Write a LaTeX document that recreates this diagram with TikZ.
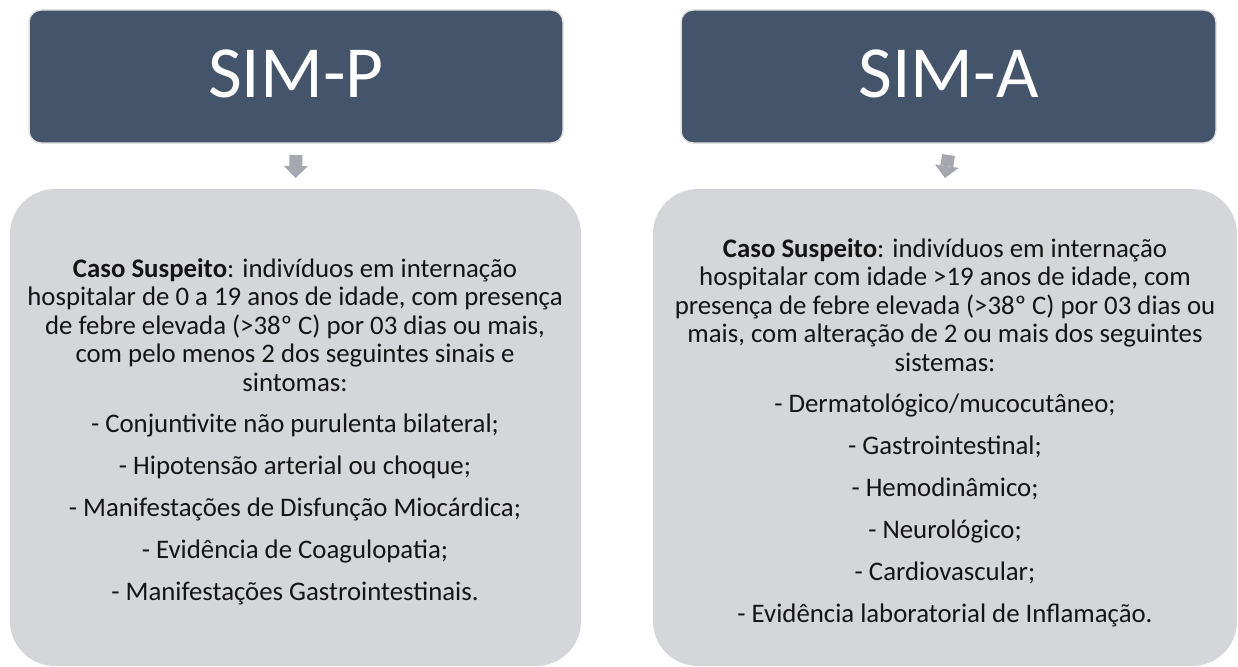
\documentclass[tikz,border=0pt]{standalone}
\usepackage{fontspec}
\setmainfont{Carlito}
\usetikzlibrary{calc,arrows.meta}
\definecolor{hdrblue}{RGB}{68,84,106}
\definecolor{hdrborder}{RGB}{226,226,228}
\definecolor{bodygray}{RGB}{213,214,218}
\definecolor{arrowgray}{RGB}{166,168,175}
\definecolor{txt}{RGB}{20,20,20}
\newcommand{\mybodyfont}{\fontsize{26.8}{28.5}\selectfont\lineskiplimit=-100pt\relax}
\newcommand{\firststrut}{\rule{0pt}{25pt}}
\tikzset{
  hdrbox/.style={draw=hdrborder, line width=1.5pt, fill=hdrblue, rounded corners=12pt,
    minimum height=133pt, inner sep=0pt, outer sep=0pt},
  hdrtext/.style={text=white, font=\fontsize{73.5}{80}\selectfont, inner sep=0pt, anchor=base},
  bodybox/.style={fill=bodygray, rounded corners=45pt, minimum height=477pt, inner sep=0pt, outer sep=0pt},
  bodytext/.style={text=txt, align=center, font=\mybodyfont, inner sep=0pt, anchor=north},
  blockarrow/.style={arrowgray, line width=13pt, -{Triangle[width=24pt,length=12pt,line width=0pt]}}
}
\begin{document}
\begin{tikzpicture}[x=1pt,y=-1pt]
\useasboundingbox (0,0) rectangle (1238,666);
% headers
\node[hdrbox, minimum width=534pt] (hP) at (296,76.5) {};
\node[hdrbox, minimum width=535pt] (hA) at (948.5,76.5) {};
\node[hdrtext] (tP) at (296,98) {SIM-P};
\node[hdrtext] (tA) at (948.5,98) {SIM-A};
% bodies
\node[bodybox, minimum width=571pt] (bP) at (295.5,427.5) {};
\node[bodybox, minimum width=584pt] (bA) at (945,427.5) {};
% arrows
\draw[blockarrow] ($(hP.south)+(0,12)$) -- ($(bP.north)+(0,-11)$);
\draw[blockarrow] ($(hA.south)+(0,12)$) -- ($(bA.north)+(0,-11)$);
% body texts
\node[bodytext] (xP) at (295,252) {\firststrut\textbf{Caso Suspeito}: indivíduos em internação\\
hospitalar de 0 a 19 anos de idade, com presença\\
de febre elevada (>38º C) por 03 dias ou mais,\\
com pelo menos 2 dos seguintes sinais e\\
sintomas:\\[12.5pt]
- Conjuntivite não purulenta bilateral;\\[13.5pt]
- Hipotensão arterial ou choque;\\[13.5pt]
- Manifestações de Disfunção Miocárdica;\\[13.5pt]
- Evidência de Coagulopatia;\\[13.5pt]
- Manifestações Gastrointestinais.};
\node[bodytext] (xA) at (945,232) {\firststrut\textbf{Caso Suspeito}: indivíduos em internação\\
hospitalar com idade >19 anos de idade, com\\
presença de febre elevada (>38º C) por 03 dias ou\\
mais, com alteração de 2 ou mais dos seguintes\\
sistemas:\\[12.5pt]
- Dermatológico/mucocutâneo;\\[13.5pt]
- Gastrointestinal;\\[13.5pt]
- Hemodinâmico;\\[13.5pt]
- Neurológico;\\[13.5pt]
- Cardiovascular;\\[13.5pt]
- Evidência laboratorial de Inflamação.};
\end{tikzpicture}
\end{document}
